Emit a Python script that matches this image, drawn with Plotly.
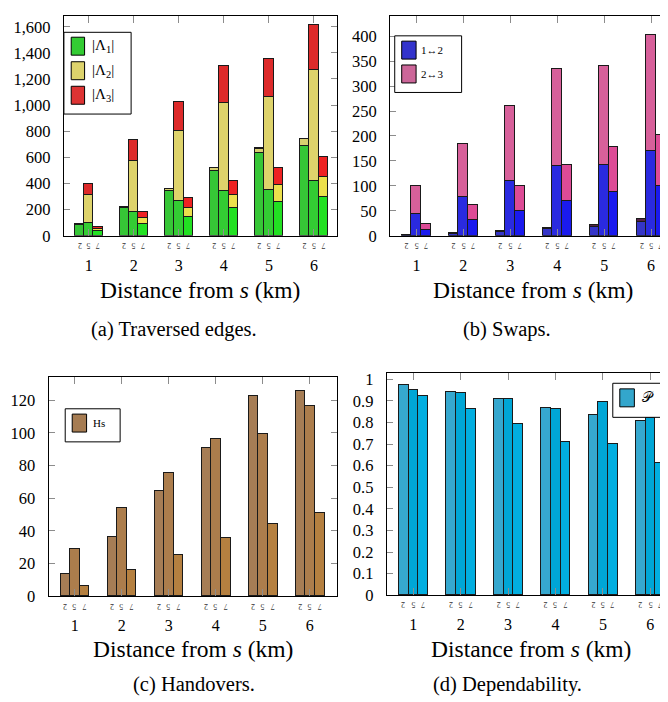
import plotly.graph_objects as go

W, H = 668, 702
FONT = "Liberation Serif, Times New Roman, serif"

# ---------------- data ----------------
groups = [1, 2, 3, 4, 5, 6]
group_labels = ["1", "2", "3", "4", "5", "6"]
sub_labels = ["2", "5", "7"]

# (a) Traversed edges: three bars per group, stacked |Λ1|,|Λ2|,|Λ3|
lam1 = [[80, 100, 35], [210, 180, 93], [345, 268, 148], [498, 343, 213], [636, 350, 263], [691, 418, 295]]
lam2 = [[6, 210, 20], [8, 396, 45], [12, 533, 65], [22, 674, 100], [32, 712, 130], [50, 849, 158]]
lam3 = [[2, 90, 15], [2, 160, 47], [3, 223, 77], [3, 287, 108], [5, 295, 130], [3, 348, 153]]

# (b) Swaps
sw12 = [[1, 43, 11], [4, 78, 31], [7, 110, 49], [14, 139, 70], [18, 141, 88], [28, 169, 100]]
sw23 = [[1, 57, 12], [1, 105, 31], [2, 149, 50], [2, 194, 72], [3, 199, 89], [5, 233, 102]]

# (c) Handovers
hs = [[13.5, 29.2, 6.2], [36.5, 54, 16], [64.3, 75.6, 25], [91, 96.4, 35.9], [122.8, 99.2, 44.4], [126, 116.7, 51]]

# (d) Dependability
dep = [[0.973, 0.949, 0.919], [0.937, 0.934, 0.860], [0.905, 0.906, 0.792],
       [0.864, 0.860, 0.706], [0.833, 0.891, 0.697], [0.805, 0.818, 0.609]]

offsets = [-0.205, 0.0, 0.205]
BW = 0.205


def px_x(p):
    return p / W


def px_y(p):
    return 1 - p / H


fig = go.Figure()


def add_bars(values, colors, xa, ya):
    xs, ys, cs = [], [], []
    for gi, g in enumerate(groups):
        for k in range(3):
            xs.append(g + offsets[k])
            ys.append(values[gi][k])
            cs.append(colors[k])
    fig.add_trace(go.Bar(x=xs, y=ys, width=BW, marker=dict(color=cs, line=dict(color="#1a1a1a", width=1)),
                         xaxis=xa, yaxis=ya, showlegend=False))


# panel a
add_bars(lam1, ["#36c636", "#33cc33", "#22e022"], "x", "y")
add_bars(lam2, ["#d8cf70", "#ded36b", "#ece04c"], "x", "y")
add_bars(lam3, ["#d82c2c", "#dd2a2a", "#ee2222"], "x", "y")
# panel b
add_bars(sw12, ["#3535c8", "#2a2ae0", "#1a1aee"], "x2", "y2")
add_bars(sw23, ["#552244", "#d7609a", "#dd4b96"], "x2", "y2")
# panel c
add_bars(hs, ["#a67d55", "#ac7d4c", "#b58040"], "x3", "y3")
# panel d
add_bars(dep, ["#36a8cf", "#00a6d6", "#02aee0"], "x4", "y4")

fig.update_layout(barmode="stack", bargap=0)

panels = {
    # name: (x px left, x px right, y px top, y px bottom, xrange, yrange, dtick, fmt)
    "1": (56, 329, 5, 229, [0.45, 6.5], [0, 1683], 200, ","),
    "2": (382.7, 668, 5.3, 229, [0.44, 6.51], [0, 440], 50, ""),
    "3": (40.7, 329, 372.7, 596, [0.447, 6.57], [0, 134.4], 20, ""),
    "4": (379.3, 668, 369.3, 595.3, [0.44, 6.52], [0, 1.027], 0.1, ""),
}

for n, (xl, xr, yt, yb, xrng, yrng, dt, fmt) in panels.items():
    sfx = "" if n == "1" else n
    fig.layout["xaxis" + sfx] = dict(
        domain=[px_x(xl), min(1.0, px_x(xr))], range=xrng, anchor="y" + sfx,
        tickvals=groups, ticktext=group_labels, ticks="inside", ticklen=7, tickcolor="#8c8c8c",
        mirror="ticks", showline=True, linecolor="black", linewidth=1, showgrid=False, zeroline=False,
        tickfont=dict(family=FONT, size=16, color="black"), ticklabelstandoff=15,
    )
    fig.layout["yaxis" + sfx] = dict(
        domain=[px_y(yb), px_y(yt)], range=yrng, anchor="x" + sfx, dtick=dt, tick0=0,
        tickformat=fmt, ticks="inside", ticklen=6, tickcolor="#8c8c8c",
        mirror="ticks", showline=True, linecolor="black", linewidth=1, showgrid=False, zeroline=False,
        tickfont=dict(family=FONT, size=16.5, color="black"), ticklabelstandoff=9,
    )

annotations = []
shapes = []

# tiny sub labels under each bar
for n, (xl, xr, yt, yb, *_r) in panels.items():
    sfx = "" if n == "1" else n
    for g in groups:
        for k in range(3):
            annotations.append(dict(x=g + offsets[k], y=px_y(yb + 10), xref="x" + sfx, yref="paper",
                                    xanchor="center", yanchor="middle",
                                    text=sub_labels[k], showarrow=False, textangle=180,
                                    font=dict(family=FONT, size=8, color="#333")))
    cx = px_x((xl + min(xr, 668)) / 2)
    ty = 284 if yb < 300 else 650
    annotations.append(dict(x=cx, y=px_y(ty), xref="paper", yref="paper", xanchor="center", yanchor="middle",
                            text="Distance from <i>s</i> (km)", showarrow=False,
                            font=dict(family=FONT, size=23.5, color="black")))

captions = [("(a) Traversed edges.", 166, 325), ("(b) Swaps.", 500, 325),
            ("(c) Handovers.", 186, 686), ("(d) Dependability.", 500, 686)]
for t, cx, cy in captions:
    annotations.append(dict(x=px_x(cx), y=px_y(cy), xref="paper", yref="paper", text=t, showarrow=False,
                            xanchor="center", yanchor="middle",
                            font=dict(family=FONT, size=20.5, color="black")))


def rect(x0, y0, x1, y1, fill, lw=1):
    shapes.append(dict(type="rect", xref="paper", yref="paper", x0=px_x(x0), x1=px_x(x1),
                       y0=px_y(y1), y1=px_y(y0), fillcolor=fill, line=dict(color="black", width=lw)))


def label(x, y, t, size):
    annotations.append(dict(x=px_x(x), y=px_y(y), xref="paper", yref="paper", text=t, showarrow=False,
                            xanchor="left", yanchor="middle", font=dict(family=FONT, size=size, color="black")))


# legend a
rect(56, 21.7, 123.3, 105, "white")
for i, (c, t) in enumerate([("#33cc33", "|Λ<sub>1</sub>|"), ("#ddd36c", "|Λ<sub>2</sub>|"), ("#dd3333", "|Λ<sub>3</sub>|")]):
    rect(63.3, 26.7 + 25 * i, 76.7, 45 + 25 * i, c)
    label(82, 36 + 25 * i, t, 15)

# legend b
rect(387.3, 25.3, 454.3, 83, "white")
for i, (c, t) in enumerate([("#3333cc", "1↔2"), ("#cc6699", "2↔3")]):
    rect(394.3, 30.7 + 24.3 * i, 408.7, 49 + 24.3 * i, c)
    label(412, 40 + 24.3 * i, t, 11)

# legend c
rect(57.3, 405.3, 112.3, 439, "white")
rect(64.3, 410.7, 78.7, 429, "#a67c52")
label(83, 420, "Hs", 11)

# legend d
rect(605.7, 379.3, 656.7, 414, "white")
rect(612.7, 385, 627.3, 403.3, "#33a6cc")
label(633, 394, "𝒫", 14)

fig.update_layout(width=W, height=H, autosize=False, margin=dict(l=0, r=0, t=0, b=0),
                  paper_bgcolor="white", plot_bgcolor="white",
                  annotations=annotations, shapes=shapes, font=dict(family=FONT))

fig.write_html("out.html")
